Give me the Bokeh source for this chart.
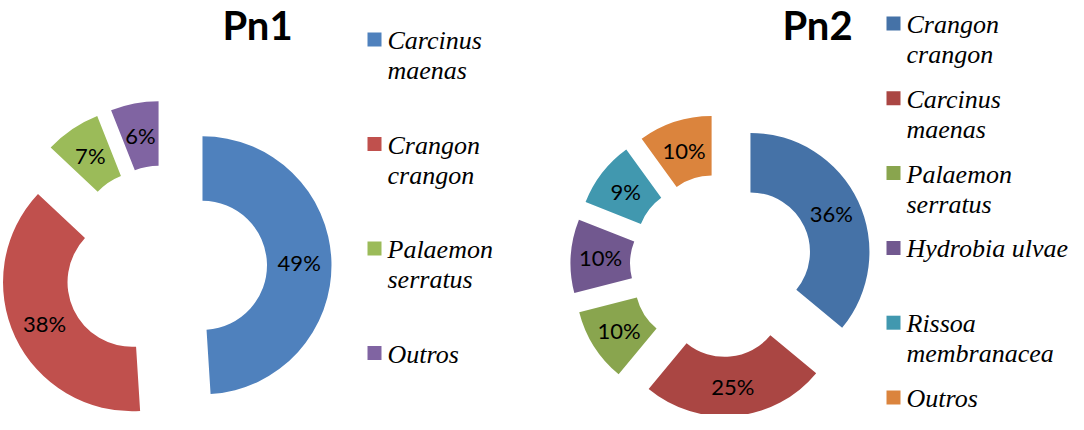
import math
from bokeh.plotting import figure
from bokeh.models import Range1d
from bokeh.core.properties import value
from bokeh.embed import file_html
from bokeh.resources import INLINE

# ---------------- data ----------------
pn1_title = "Pn1"
pn1_species = ["Carcinus maenas", "Crangon crangon", "Palaemon serratus", "Outros"]
pn1_values = [49, 38, 7, 6]
pn1_colors = ["#4F81BD", "#C0504D", "#9BBB59", "#8064A2"]

pn2_title = "Pn2"
pn2_species = ["Crangon crangon", "Carcinus maenas", "Palaemon serratus",
               "Hydrobia ulvae", "Rissoa membranacea", "Outros"]
pn2_values = [36, 25, 10, 10, 9, 10]
pn2_colors = ["#4572A7", "#AA4643", "#89A54E", "#71588F", "#4198AF", "#DB843D"]
no_wrap = ["Hydrobia ulvae"]

# ---------------- layout ----------------
W, H = 1068, 414
p = figure(width=W, height=H, x_range=Range1d(8, 8 + W), y_range=Range1d(-423, -423 + H),
           output_backend="svg", toolbar_location=None, min_border=0,
           x_axis_type=None, y_axis_type=None)
p.grid.visible = False
p.outline_line_color = None
p.background_fill_color = "white"
p.border_fill_color = "white"

LABEL_FONT = value("Lato")
LEGEND_FONT = value("serif")


def donut(values, colors, cx, cy, R, r, d):
    total = float(sum(values))
    cum = 0.0
    xs, ys, sa, ea, lx, ly, txt = [], [], [], [], [], [], []
    rm = (R + r) / 2.0
    for v in values:
        t0 = cum / total * 360.0
        cum += v
        t1 = cum / total * 360.0
        tm = math.radians((t0 + t1) / 2.0)
        ox = cx + d * math.sin(tm)
        oy = -cy + d * math.cos(tm)
        xs.append(ox)
        ys.append(oy)
        sa.append(math.radians(90.0 - t1))
        ea.append(math.radians(90.0 - t0))
        lx.append(ox + rm * math.sin(tm))
        ly.append(oy + rm * math.cos(tm))
        txt.append(f"{v}%")
    p.annular_wedge(x=xs, y=ys, inner_radius=r, outer_radius=R, start_angle=sa, end_angle=ea,
                    direction="anticlock", fill_color=colors, line_color=None)
    p.text(x=lx, y=ly, text=txt, text_font=LABEL_FONT, text_font_size="22px",
           text_align="center", text_baseline="middle", text_color="black")


def title(t, x, y):
    p.text(x=[x], y=[-y], text=[t], text_font=LABEL_FONT, text_font_size="40px",
           text_font_style="bold", text_align="center", text_baseline="middle",
           text_color="black")


def legend(names, colors, mx, tx, y0, step):
    my = [-(y0 + i * step) for i in range(len(names))]
    p.scatter(x=[mx] * len(names), y=my, marker="square", size=14,
              fill_color=colors, line_color=None)
    tx_l, ty_l, tt = [], [], []
    for i, n in enumerate(names):
        lines = [n] if n in no_wrap else n.split(" ")
        for k, ln in enumerate(lines):
            tx_l.append(tx)
            ty_l.append(my[i] - 1 - 30 * k)
            tt.append(ln)
    p.text(x=tx_l, y=ty_l, text=tt, text_font=LEGEND_FONT, text_font_style="italic",
           text_font_size="26px", text_align="left", text_baseline="middle",
           text_color="black")


legend(pn1_species, pn1_colors, 382, 395, 48, 104.5)
legend(pn2_species, pn2_colors, 901, 914, 32, 74.8)

donut(pn1_values, pn1_colors, 173, 275, 129, 64.5, 37)
title(pn1_title, 265, 33)
donut(pn2_values, pn2_colors, 729, 274, 119, 59.5, 32)
title(pn2_title, 825, 33)

open("out.html", "w").write(file_html(p, INLINE))
